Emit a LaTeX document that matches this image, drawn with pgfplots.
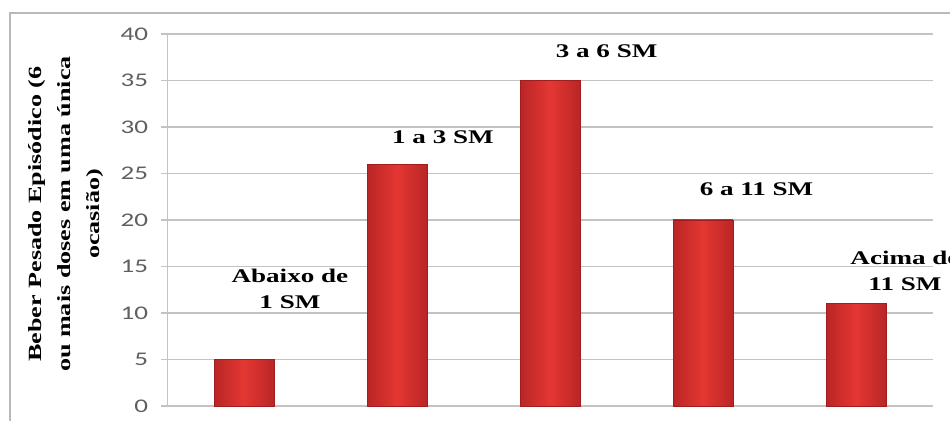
\documentclass[border=0pt]{standalone}
\usepackage{fontspec}
\usepackage{pgfplots}
\pgfplotsset{compat=1.18}
\setmainfont{Liberation Serif}
\newfontfamily\labfont[FakeStretch=1.4]{Liberation Serif}
\newfontfamily\tickfont[FakeStretch=1.4]{Carlito}
\newfontfamily\ylabfont[FakeStretch=1.4]{Liberation Serif}
\definecolor{bardark}{RGB}{185,38,38}
\definecolor{barmid}{RGB}{228,55,50}
\definecolor{baredge}{RGB}{160,30,30}
\definecolor{gridc}{RGB}{195,195,195}
\definecolor{tickc}{RGB}{95,95,95}
\definecolor{framec}{RGB}{185,185,185}
\begin{document}
\begin{tikzpicture}
\useasboundingbox (0,0) rectangle (712.5pt,315.75pt);
\clip (0,0) rectangle (712.5pt,315.75pt);
\begin{axis}[
  at={(125.625pt,11.25pt)}, anchor=south west,
  scale only axis, width=573.75pt, height=279pt,
  xmin=-0.5, xmax=4.5, ymin=0, ymax=40,
  xtick=\empty, ytick={0,5,...,40},
  ymajorgrids, grid style={gridc, line width=0.8pt},
  axis x line*=bottom, axis y line*=left,
  axis line style={-, gridc, line width=0.8pt},
  tick style={gridc, line width=0.8pt}, major tick length=5pt, tick align=outside,
  /pgf/number format/assume math mode=true,
  yticklabel style={font=\tickfont\fontsize{14.5}{16}\selectfont, text=tickc, xshift=-6pt},
  clip=false,
  mybar/.style={ybar, bar width=0.39, bar shift=0pt, draw=baredge, line width=0.5pt,
    left color=bardark, right color=bardark, middle color=barmid, mark=none},
]
\addplot[mybar] coordinates {(0,5)};
\addplot[mybar] coordinates {(1,26)};
\addplot[mybar] coordinates {(2,35)};
\addplot[mybar] coordinates {(3,20)};
\addplot[mybar] coordinates {(4,11)};
\node[font=\labfont\bfseries\fontsize{14.5}{19.5}\selectfont, align=center] at (axis cs:0.30,12.6) {Abaixo de\\1 SM};
\node[font=\labfont\bfseries\fontsize{14.5}{19.5}\selectfont, align=center] at (axis cs:1.30,28.9) {1 a 3 SM};
\node[font=\labfont\bfseries\fontsize{14.5}{19.5}\selectfont, align=center] at (axis cs:2.37,38.2) {3 a 6 SM};
\node[font=\labfont\bfseries\fontsize{14.5}{19.5}\selectfont, align=center] at (axis cs:3.35,23.3) {6 a 11 SM};
\node[font=\labfont\bfseries\fontsize{14.5}{19.5}\selectfont, align=center] at (axis cs:4.32,14.5) {Acima de\\11 SM};
\end{axis}
\node[rotate=90, font=\ylabfont\bfseries\fontsize{14}{21.75}\selectfont, align=center] at (49.5pt,155.25pt) {Beber Pesado Episódico (6\\ou mais doses em uma única\\ocasião)};
\draw[framec, line width=2pt] (7.5pt,-5pt) -- (7.5pt,306pt) -- (720pt,306pt);
\end{tikzpicture}
\end{document}
